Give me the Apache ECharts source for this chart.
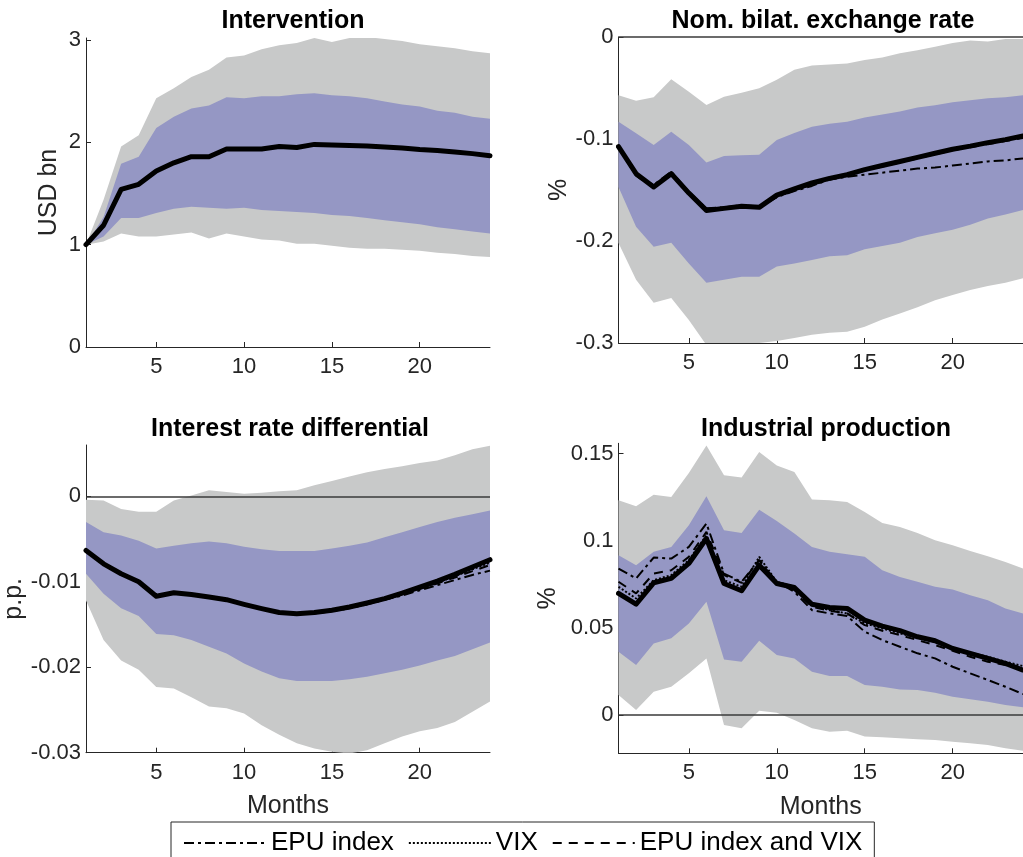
<!DOCTYPE html>
<html>
<head>
<meta charset="utf-8">
<title>Impulse responses</title>
<script src="https://cdn.jsdelivr.net/npm/echarts@6/dist/echarts.min.js"></script>
<style>
  html, body { margin: 0; padding: 0; background: #ffffff; }
  #chart { width: 1023px; height: 857px; }
</style>
</head>
<body>
<div id="chart"></div>
<script>
// Horizon in months
const months = [1,2,3,4,5,6,7,8,9,10,11,12,13,14,15,16,17,18,19,20,21,22,23,24];

// Panel titles, axis units and tick labels
const panelTitles = ['Intervention', 'Nom. bilat. exchange rate', 'Interest rate differential', 'Industrial production'];
const yUnits = ['USD bn', '%', 'p.p.', '%'];
const xTicks = [5, 10, 15, 20];
const yTicks1 = [0, 1, 2, 3];
const yTicks2 = [-0.3, -0.2, -0.1, 0];
const yTicks3 = [-0.03, -0.02, -0.01, 0];
const yTicks4 = [0, 0.05, 0.1, 0.15];
const legendNames = ['EPU index', 'VIX', 'EPU index and VIX'];

// Intervention (USD bn)
const intMain  = [1.00,1.19,1.54,1.59,1.72,1.80,1.86,1.86,1.935,1.935,1.935,1.96,1.95,1.98,1.975,1.97,1.965,1.955,1.945,1.93,1.92,1.905,1.89,1.87];
const intInLo  = [1.00,1.08,1.26,1.26,1.31,1.35,1.37,1.36,1.35,1.36,1.34,1.33,1.32,1.31,1.29,1.28,1.26,1.24,1.22,1.20,1.17,1.15,1.13,1.11];
const intInHi  = [1.00,1.27,1.79,1.86,2.14,2.25,2.33,2.36,2.44,2.43,2.45,2.45,2.47,2.48,2.46,2.45,2.43,2.40,2.37,2.35,2.31,2.29,2.25,2.23];
const intOutLo = [1.00,1.03,1.11,1.08,1.08,1.10,1.12,1.06,1.11,1.08,1.05,1.04,1.01,1.01,0.99,0.97,0.96,0.96,0.95,0.94,0.92,0.91,0.89,0.88];
const intOutHi = [1.00,1.44,1.96,2.07,2.43,2.53,2.64,2.71,2.83,2.85,2.91,2.95,2.97,3.02,2.98,3.02,3.03,3.01,2.99,2.96,2.94,2.92,2.89,2.87];

// Nominal bilateral exchange rate (%)
const erMain  = [-0.1075,-0.134,-0.147,-0.134,-0.153,-0.170,-0.168,-0.166,-0.167,-0.155,-0.149,-0.143,-0.1386,-0.135,-0.130,-0.126,-0.122,-0.118,-0.114,-0.110,-0.107,-0.1036,-0.1006,-0.097];
const erEpu   = [-0.108,-0.136,-0.145,-0.132,-0.152,-0.168,-0.167,-0.165,-0.166,-0.157,-0.151,-0.146,-0.1395,-0.137,-0.135,-0.133,-0.131,-0.129,-0.128,-0.126,-0.124,-0.122,-0.121,-0.119];
const erVix   = [-0.107,-0.135,-0.146,-0.133,-0.152,-0.169,-0.167,-0.166,-0.166,-0.156,-0.150,-0.144,-0.139,-0.135,-0.130,-0.126,-0.122,-0.118,-0.114,-0.110,-0.107,-0.104,-0.101,-0.098];
const erBoth  = [-0.108,-0.136,-0.148,-0.135,-0.154,-0.170,-0.168,-0.167,-0.167,-0.157,-0.150,-0.145,-0.140,-0.136,-0.131,-0.127,-0.123,-0.119,-0.115,-0.111,-0.108,-0.105,-0.102,-0.099];
const erInLo  = [-0.147,-0.186,-0.2056,-0.2017,-0.222,-0.241,-0.238,-0.235,-0.235,-0.225,-0.222,-0.2186,-0.215,-0.214,-0.208,-0.205,-0.2017,-0.196,-0.1925,-0.189,-0.184,-0.178,-0.174,-0.1696];
const erInHi  = [-0.083,-0.0944,-0.106,-0.093,-0.106,-0.123,-0.1167,-0.116,-0.1155,-0.101,-0.094,-0.088,-0.085,-0.083,-0.079,-0.076,-0.073,-0.069,-0.067,-0.064,-0.062,-0.060,-0.059,-0.057];
const erOutLo = [-0.202,-0.238,-0.2605,-0.256,-0.2775,-0.302,-0.305,-0.303,-0.300,-0.298,-0.295,-0.292,-0.290,-0.289,-0.284,-0.277,-0.271,-0.265,-0.258,-0.253,-0.248,-0.244,-0.241,-0.2366];
const erOutHi = [-0.057,-0.0624,-0.059,-0.0415,-0.0536,-0.0667,-0.0585,-0.0546,-0.0503,-0.042,-0.032,-0.028,-0.027,-0.026,-0.0225,-0.020,-0.016,-0.013,-0.0095,-0.006,-0.0035,-0.0045,-0.002,-0.002];

// Interest rate differential (p.p.)
const irMain  = [-0.00634,-0.0079,-0.00906,-0.0100,-0.0117,-0.01128,-0.0115,-0.01178,-0.0121,-0.01264,-0.01314,-0.0136,-0.01373,-0.0136,-0.01334,-0.01295,-0.01248,-0.01197,-0.01132,-0.01062,-0.00992,-0.00914,-0.00828,-0.00742];
const irEpu   = [-0.00640,-0.0080,-0.00910,-0.0101,-0.0117,-0.01130,-0.0115,-0.01180,-0.0121,-0.01265,-0.01315,-0.0136,-0.01375,-0.0137,-0.01345,-0.01310,-0.01265,-0.01210,-0.01160,-0.01100,-0.01040,-0.00980,-0.00920,-0.00870];
const irVix   = [-0.00636,-0.0079,-0.00905,-0.0100,-0.0116,-0.01126,-0.0115,-0.01176,-0.0121,-0.01262,-0.01312,-0.0136,-0.01372,-0.0136,-0.01336,-0.01300,-0.01255,-0.01205,-0.01145,-0.01078,-0.01010,-0.00935,-0.00855,-0.00775];
const irBoth  = [-0.00638,-0.0080,-0.00908,-0.0100,-0.0117,-0.01129,-0.0115,-0.01179,-0.0121,-0.01264,-0.01314,-0.0136,-0.01374,-0.0136,-0.01340,-0.01305,-0.01260,-0.01210,-0.01150,-0.01085,-0.01020,-0.00950,-0.00875,-0.00805];
const irInLo  = [-0.00906,-0.0114,-0.0131,-0.0140,-0.0161,-0.01625,-0.0168,-0.0176,-0.0184,-0.01956,-0.0205,-0.0213,-0.0216,-0.0216,-0.0216,-0.0214,-0.0211,-0.0207,-0.0203,-0.0198,-0.0192,-0.0187,-0.0179,-0.0171];
const irInHi  = [-0.0030,-0.0042,-0.0046,-0.0052,-0.0061,-0.0058,-0.0055,-0.0053,-0.0055,-0.0059,-0.0062,-0.0064,-0.0064,-0.0064,-0.0061,-0.0058,-0.0054,-0.0048,-0.0042,-0.0036,-0.0030,-0.0025,-0.0021,-0.00167];
const irOutLo = [-0.0122,-0.0168,-0.0192,-0.0203,-0.0223,-0.0225,-0.0235,-0.0246,-0.0248,-0.0254,-0.0268,-0.0279,-0.0289,-0.0295,-0.0299,-0.0301,-0.0297,-0.0289,-0.0281,-0.0275,-0.0271,-0.0264,-0.0252,-0.0240];
const irOutHi = [-0.0004,-0.0005,-0.0015,-0.0018,-0.0018,-0.0005,0.0001,0.0007,0.0005,0.0003,0.0004,0.0006,0.0007,0.0013,0.0018,0.0023,0.0028,0.0032,0.0035,0.0039,0.0042,0.0048,0.0055,0.0059];

// Industrial production (%)
const ipMain  = [0.0698,0.0636,0.0759,0.0784,0.0870,0.1013,0.0755,0.0713,0.0860,0.0755,0.0732,0.0636,0.0617,0.0612,0.0545,0.0510,0.0484,0.0449,0.0426,0.0382,0.0354,0.0325,0.0296,0.0258];
const ipEpu   = [0.0841,0.0784,0.0904,0.0898,0.0965,0.1099,0.0812,0.0765,0.0889,0.0765,0.0707,0.0602,0.0583,0.0568,0.0478,0.0430,0.0392,0.0354,0.0325,0.0277,0.0239,0.0201,0.0162,0.0120];
const ipVix   = [0.0736,0.0669,0.0774,0.0803,0.0889,0.1032,0.0774,0.0736,0.0908,0.0765,0.0736,0.0631,0.0602,0.0583,0.0526,0.0497,0.0468,0.0445,0.0420,0.0382,0.0357,0.0334,0.0306,0.0281];
const ipBoth  = [0.0765,0.0698,0.0812,0.0831,0.0908,0.1051,0.0803,0.0759,0.0889,0.0759,0.0717,0.0621,0.0598,0.0583,0.0516,0.0484,0.0459,0.0430,0.0401,0.0369,0.0334,0.0306,0.0287,0.0258];
const ipInLo  = [0.0363,0.0287,0.0411,0.0440,0.0526,0.0650,0.0319,0.0306,0.0426,0.0344,0.0325,0.0248,0.0224,0.0224,0.0172,0.0162,0.0147,0.0143,0.0128,0.0105,0.0090,0.0076,0.0057,0.0044];
const ipInHi  = [0.0917,0.0860,0.0937,0.0965,0.1090,0.1256,0.1061,0.1045,0.1179,0.1114,0.1042,0.0965,0.0937,0.0923,0.0908,0.0831,0.0793,0.0765,0.0736,0.0721,0.0688,0.0659,0.0612,0.0583];
const ipOutLo = [0.0115,0.0029,0.0134,0.0162,0.0239,0.0325,-0.0057,-0.0076,0.0025,0.0013,-0.0029,-0.0076,-0.0096,-0.0090,-0.0124,-0.0128,-0.0134,-0.0140,-0.0143,-0.0153,-0.0162,-0.0172,-0.0191,-0.0205];
const ipOutHi = [0.1233,0.1198,0.1265,0.1252,0.1390,0.1548,0.1376,0.1363,0.1510,0.1433,0.1395,0.1237,0.1233,0.1223,0.1166,0.1103,0.1080,0.1045,0.1003,0.0975,0.0942,0.0912,0.0879,0.0841];

const FONT = 'Liberation Sans, Arial, Helvetica, sans-serif';
const AXIS_COLOR = '#262626';
const GRAY_BAND = '#c8c9c9';
const BLUE_BAND = '#9597c4';

const chart = echarts.init(document.getElementById('chart'), null, { renderer: 'canvas' });

// Plot areas in a 2x2 layout
const grids = [
  { left: 86,    top: 38,    width: 404, height: 309 },
  { left: 618.5, top: 37,    width: 405, height: 306 },
  { left: 86,    top: 445,   width: 404, height: 307.7 },
  { left: 618.5, top: 443.3, width: 405, height: 310 }
];
const yRanges = [[0, 3.02], [-0.3, 0], [-0.03, 0.006], [-0.022, 0.156]];
const yTickSets = [yTicks1, yTicks2, yTicks3, yTicks4];
const yNameGaps = [24, 47, 58, 58];

// Shaded band drawn as an invisible lower edge plus a stacked width
function band(g, lo, hi, color, key) {
  return [
    {
      type: 'line', xAxisIndex: g, yAxisIndex: g, stack: key, stackStrategy: 'all',
      data: lo.slice(), symbol: 'none', silent: true,
      lineStyle: { width: 0, opacity: 0 }
    },
    {
      type: 'line', xAxisIndex: g, yAxisIndex: g, stack: key, stackStrategy: 'all',
      data: hi.map((h, i) => h - lo[i]), symbol: 'none', silent: true,
      lineStyle: { width: 0, opacity: 0 },
      areaStyle: { color: color, opacity: 1 }
    }
  ];
}

function mainLine(g, vals, zero) {
  const s = {
    type: 'line', xAxisIndex: g, yAxisIndex: g, data: vals.slice(), symbol: 'none',
    lineStyle: { color: '#000000', width: 5, cap: 'round', join: 'round' }, z: 3
  };
  if (zero) {
    s.markLine = {
      silent: true, symbol: 'none', label: { show: false },
      lineStyle: { color: '#3a3a3a', width: 1.5, type: 'solid' },
      data: [{ yAxis: 0 }]
    };
  }
  return s;
}

const dashTypes = [[10, 4, 3, 4], [2, 2], [9, 7]];
function altLines(g, sets) {
  return sets.map((vals, k) => ({
    type: 'line', name: legendNames[k], xAxisIndex: g, yAxisIndex: g, data: vals.slice(),
    symbol: 'none', z: 4,
    lineStyle: { color: '#000000', width: 2, type: dashTypes[k] },
    itemStyle: { color: '#000000' }
  }));
}

const series = [].concat(
  band(0, intOutLo, intOutHi, GRAY_BAND, 'g0'), band(0, intInLo, intInHi, BLUE_BAND, 'b0'),
  [mainLine(0, intMain, false)],
  band(1, erOutLo, erOutHi, GRAY_BAND, 'g1'), band(1, erInLo, erInHi, BLUE_BAND, 'b1'),
  [mainLine(1, erMain, true)], altLines(1, [erEpu, erVix, erBoth]),
  band(2, irOutLo, irOutHi, GRAY_BAND, 'g2'), band(2, irInLo, irInHi, BLUE_BAND, 'b2'),
  [mainLine(2, irMain, true)], altLines(2, [irEpu, irVix, irBoth]),
  band(3, ipOutLo, ipOutHi, GRAY_BAND, 'g3'), band(3, ipInLo, ipInHi, BLUE_BAND, 'b3'),
  [mainLine(3, ipMain, true)], altLines(3, [ipEpu, ipVix, ipBoth])
);

const titleCenters = [[288, 4], [818, 4], [285, 412], [821, 412]];
const showTick = (idx, val) => xTicks.indexOf(Number(val)) >= 0;

const option = {
  backgroundColor: '#ffffff',
  animation: false,
  textStyle: { fontFamily: FONT },
  title: panelTitles.map((t, i) => ({
    text: t, left: titleCenters[i][0], top: titleCenters[i][1], textAlign: 'center',
    textStyle: { fontFamily: FONT, fontWeight: 'bold', fontSize: 25, color: '#000000' }
  })),
  grid: grids,
  xAxis: grids.map((gr, i) => ({
    type: 'category', gridIndex: i, data: months, boundaryGap: false,
    name: i >= 2 ? 'Months' : '', nameLocation: 'middle', nameGap: 41,
    nameTextStyle: { fontFamily: FONT, fontSize: 25, color: AXIS_COLOR },
    axisLine: { show: true, onZero: false, lineStyle: { color: AXIS_COLOR, width: 1 } },
    axisTick: { show: true, inside: true, length: 5, interval: showTick, lineStyle: { color: AXIS_COLOR } },
    axisLabel: { interval: showTick, margin: 9, fontFamily: FONT, fontSize: 22, color: AXIS_COLOR },
    splitLine: { show: false }
  })),
  yAxis: grids.map((gr, i) => ({
    type: 'value', gridIndex: i, min: yRanges[i][0], max: yRanges[i][1],
    name: yUnits[i], nameLocation: 'middle', nameGap: yNameGaps[i], nameRotate: 90,
    nameTextStyle: { fontFamily: FONT, fontSize: 25, color: AXIS_COLOR },
    axisLine: { show: true, onZero: false, lineStyle: { color: AXIS_COLOR, width: 1 } },
    axisTick: { show: true, inside: true, length: 5, customValues: yTickSets[i], lineStyle: { color: AXIS_COLOR } },
    axisLabel: {
      customValues: yTickSets[i], margin: 5, fontFamily: FONT, fontSize: 22, color: AXIS_COLOR,
      formatter: v => String(v)
    },
    splitLine: { show: false }
  })),
  legend: {
    data: legendNames, left: 171, top: 822, orient: 'horizontal',
    itemWidth: 82, itemHeight: 14, itemGap: 14,
    padding: [8, 12, 30, 12],
    borderColor: '#262626', borderWidth: 1, backgroundColor: '#ffffff',
    itemStyle: { color: 'rgba(0,0,0,0)', borderWidth: 0 },
    textStyle: { fontFamily: FONT, fontSize: 26, color: '#000000' },
    selectedMode: false
  },
  series: series
};

chart.setOption(option);
</script>
</body>
</html>
